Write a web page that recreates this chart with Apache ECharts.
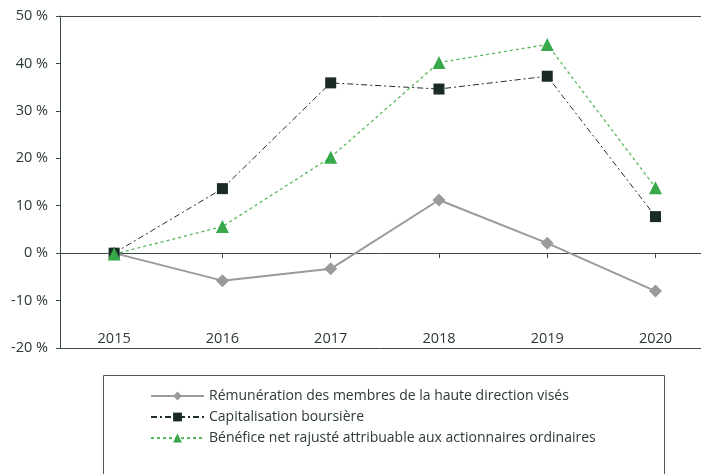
<!DOCTYPE html>
<html><head><meta charset="utf-8">
<script src="https://cdn.jsdelivr.net/npm/echarts@6/dist/echarts.min.js"></script>
<style>html,body{margin:0;padding:0;background:#fff}#c{width:701px;height:474px}</style>
</head><body><div id="c"></div>
<script>
const years = [2015,2016,2017,2018,2019,2020];
const yTicks = [-20,-10,0,10,20,30,40,50];
const remuneration = [0,-5.8,-3.3,11.2,2.1,-8.0];
const capitalisation = [0,13.6,35.9,34.6,37.3,7.7];
const benefice = [-0.2,5.6,20.2,40.2,44.0,13.8];
const names = ['Rémunération des membres de la haute direction visés','Capitalisation boursière','Bénéfice net rajusté attribuable aux actionnaires ordinaires'];

const txt = '#2b3a35';
const axc = '#3c4a45';
const font = 'Open Sans';
const xMin = 2014.5, xMax = 2020.42;
const pair = arr => arr.map((v,i)=>[years[i],v]);
const chart = echarts.init(document.getElementById('c'));
const baseX = {type:'value',min:xMin,max:xMax,splitLine:{show:false}};
chart.setOption({
  animation:false,
  grid:{left:60,right:0,top:16,height:332},
  xAxis:[
    Object.assign({},baseX,{
      axisLine:{onZero:true,lineStyle:{color:axc,width:1}},
      axisTick:{show:true,length:5,customValues:years,lineStyle:{color:axc}},
      axisLabel:{show:false}
    }),
    Object.assign({},baseX,{
      position:'bottom',
      axisLine:{show:true,onZero:false,lineStyle:{color:axc,width:1}},axisTick:{show:false},
      axisLabel:{inside:true,margin:2,customValues:years,color:txt,fontFamily:font,fontSize:14.5,formatter:v=>String(v)}
    }),
    Object.assign({},baseX,{
      position:'top',
      axisLine:{show:true,onZero:false,lineStyle:{color:axc,width:1}},axisTick:{show:false},axisLabel:{show:false}
    })
  ],
  yAxis:{
    type:'value',min:yTicks[0],max:yTicks[yTicks.length-1],interval:10,
    axisLine:{show:true,lineStyle:{color:axc}},
    axisTick:{show:true,length:4,lineStyle:{color:axc}},
    splitLine:{show:false},
    axisLabel:{color:txt,fontFamily:font,fontSize:14.5,margin:12,formatter:v=>v+' %'}
  },
  legend:{
    orient:'vertical',left:145,top:384,itemWidth:53,itemHeight:11,itemGap:7,
    textStyle:{color:txt,fontFamily:font,fontSize:14},
    data:names
  },
  graphic:[{type:'rect',shape:{x:103.5,y:375.5,width:561,height:120},style:{fill:'none',stroke:'#555',lineWidth:1}}],
  series:[
    {name:names[0],type:'line',data:pair(remuneration),symbol:'diamond',symbolSize:13,
     lineStyle:{color:'#9a9a9c',width:2},itemStyle:{color:'#9a9a9c'},z:3},
    {name:names[1],type:'line',data:pair(capitalisation),symbol:'rect',symbolSize:11,
     lineStyle:{color:'#1f2e2a',width:1,type:[6,3,2,3]},itemStyle:{color:'#1a2b26'},z:4},
    {name:names[2],type:'line',data:pair(benefice),symbol:'triangle',symbolSize:13,
     lineStyle:{color:'#56b85a',width:1.3,type:[3,3]},itemStyle:{color:'#38a94a'},z:5}
  ]
});
</script></body></html>
